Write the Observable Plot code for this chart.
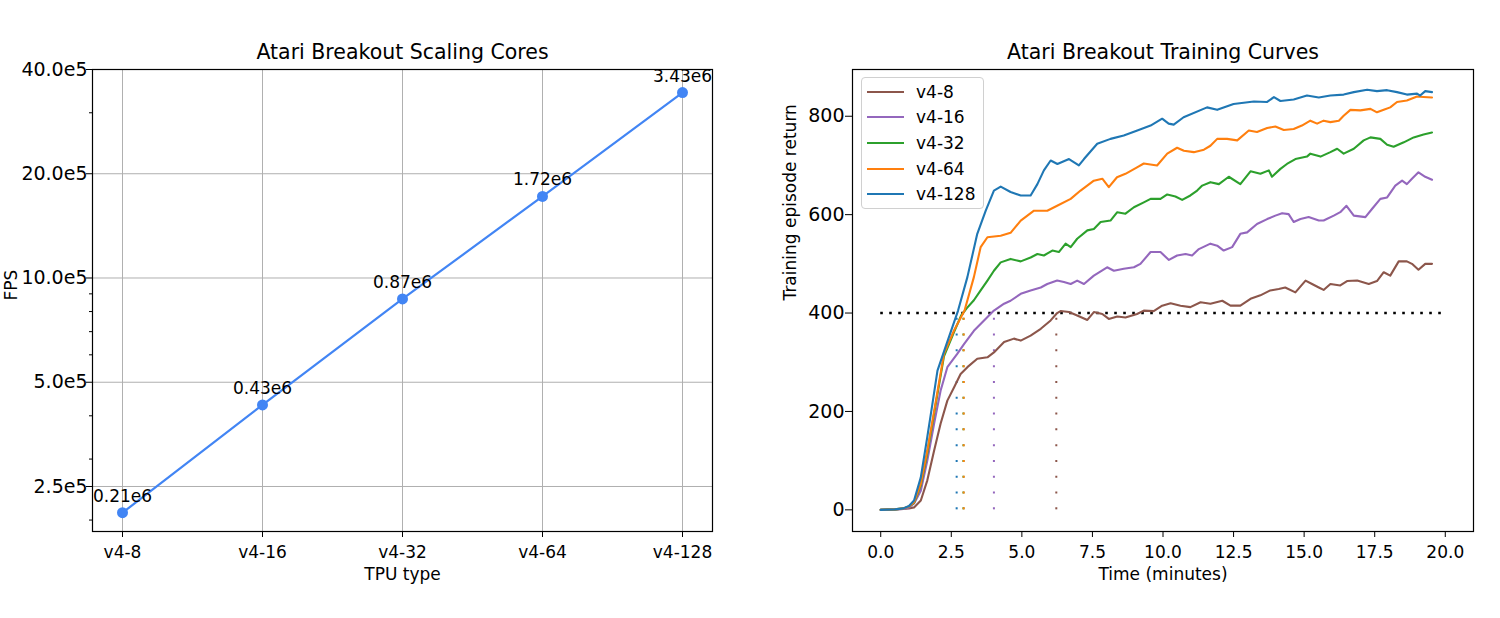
<!DOCTYPE html>
<html><head><meta charset="utf-8">
<script src="https://cdn.jsdelivr.net/npm/d3@7"></script>
<script src="https://cdn.jsdelivr.net/npm/@observablehq/plot@0.6"></script>
<style>
html,body{margin:0;padding:0;background:#fff;}
#root{position:relative;width:1500px;height:618px;overflow:hidden;font-family:"DejaVu Sans",sans-serif;background:#fff;}
#left{position:absolute;left:0;top:0;width:750px;height:618px;overflow:hidden;}
#right{position:absolute;left:760px;top:0;width:740px;height:618px;overflow:hidden;}
#legend{position:absolute;left:861px;top:77px;width:123px;height:132px;box-sizing:border-box;border:1px solid #d0d0d0;border-radius:4px;background:rgba(255,255,255,0.8);}
#legend .row{position:absolute;left:0;height:20px;width:100%;}
#legend .sw{position:absolute;left:5px;top:9px;width:37px;height:2px;}
#legend .lab{position:absolute;left:54px;top:0;line-height:20px;font-size:17px;color:#000;white-space:nowrap;}
</style></head><body>
<div id="root"><div id="left"></div><div id="right"></div><div id="legend"></div></div>
<script>
// ---------- Left panel data ----------
const leftTitle = "Atari Breakout Scaling Cores";
const tpuTypes = ["v4-8", "v4-16", "v4-32", "v4-64", "v4-128"];
const fpsValues = [0.21e6, 0.43e6, 0.87e6, 1.72e6, 3.43e6];
const fpsLabels = ["0.21e6", "0.43e6", "0.87e6", "1.72e6", "3.43e6"];
const fpsTickValues = [2.5e5, 5e5, 10e5, 20e5, 40e5];
const fpsTickLabels = ["2.5e5", "5.0e5", "10.0e5", "20.0e5", "40.0e5"];
const fpsMinorTicks = [2e5, 3e5, 4e5, 6e5, 7e5, 8e5, 9e5, 3e6];

// ---------- Right panel data ----------
const rightTitle = "Atari Breakout Training Curves";
const seriesNames = ["v4-8", "v4-16", "v4-32", "v4-64", "v4-128"];
const seriesColors = ["#8c564b", "#9467bd", "#2ca02c", "#ff7f0e", "#1f77b4"];
const threshold = 400;
const crossTimes = [6.22, 4.01, 2.93, 2.94, 2.69];
const timeTicks = [0, 2.5, 5, 7.5, 10, 12.5, 15, 17.5, 20];
const returnTicks = [0, 200, 400, 600, 800];

const time8 = [0, 0.5, 0.8, 1.0, 1.18, 1.42, 1.65, 1.89, 2.12, 2.36, 2.6, 2.83, 3.07, 3.42, 3.78, 4.01, 4.37, 4.72, 4.96, 5.31, 5.67, 6.02, 6.25, 6.37, 6.67, 6.96, 7.32, 7.55, 7.85, 8.08, 8.38, 8.67, 9.08, 9.32, 9.67, 9.97, 10.27, 10.62, 10.97, 11.33, 11.68, 12.1, 12.39, 12.74, 13.1, 13.45, 13.8, 14.1, 14.33, 14.69, 15.05, 15.28, 15.52, 15.69, 15.93, 16.28, 16.52, 16.88, 17.29, 17.58, 17.82, 18.05, 18.35, 18.64, 18.82, 19.05, 19.29, 19.53];
const ret8 = [0, 1, 2, 3, 5, 19, 60, 120, 175, 222, 249, 276, 290, 307, 310, 320, 341, 348, 344, 354, 368, 385, 400, 404, 402, 395, 386, 402, 398, 388, 393, 391, 398, 405, 404, 415, 420, 415, 412, 422, 419, 425, 415, 415, 429, 436, 446, 449, 452, 442, 466, 459, 452, 447, 459, 456, 465, 466, 459, 465, 483, 476, 505, 505, 500, 488, 500, 500];

const time16 = [0, 0.5, 0.8, 1.0, 1.18, 1.42, 1.65, 1.89, 2.12, 2.36, 2.71, 2.95, 3.3, 3.66, 4.01, 4.37, 4.6, 4.96, 5.31, 5.67, 5.9, 6.25, 6.49, 6.73, 6.96, 7.2, 7.55, 8.02, 8.26, 8.61, 8.97, 9.2, 9.56, 9.91, 10.21, 10.5, 10.8, 11.03, 11.27, 11.68, 11.92, 12.15, 12.45, 12.74, 12.98, 13.33, 13.69, 13.98, 14.22, 14.45, 14.63, 14.87, 15.16, 15.52, 15.69, 16.05, 16.28, 16.5, 16.76, 17.17, 17.41, 17.7, 17.94, 18.23, 18.47, 18.64, 18.82, 19.05, 19.29, 19.53];
const ret16 = [0, 1, 2, 5, 13, 39, 100, 175, 242, 290, 317, 337, 364, 385, 405, 419, 425, 439, 446, 452, 459, 466, 463, 459, 466, 459, 476, 493, 486, 490, 493, 500, 524, 524, 508, 517, 520, 517, 530, 541, 537, 527, 534, 561, 564, 581, 591, 598, 603, 601, 585, 591, 595, 588, 588, 598, 605, 618, 598, 595, 612, 632, 635, 659, 669, 662, 673, 686, 677, 671];

const time32 = [0, 0.5, 0.8, 1.0, 1.18, 1.42, 1.65, 1.89, 2.24, 2.6, 2.85, 3.05, 3.3, 3.54, 3.78, 4.01, 4.25, 4.6, 4.96, 5.31, 5.55, 5.78, 6.08, 6.31, 6.55, 6.73, 6.96, 7.32, 7.55, 7.79, 8.14, 8.38, 8.67, 8.97, 9.32, 9.56, 9.91, 10.15, 10.44, 10.68, 10.97, 11.21, 11.39, 11.68, 11.98, 12.33, 12.74, 13.1, 13.45, 13.75, 13.86, 14.16, 14.39, 14.69, 15.1, 15.22, 15.58, 15.93, 16.17, 16.4, 16.76, 17.11, 17.35, 17.7, 17.94, 18.17, 18.53, 18.88, 19.23, 19.53];
const ret32 = [0, 1, 3, 7, 14, 50, 115, 195, 312, 362, 395, 410, 426, 446, 466, 486, 503, 510, 505, 513, 520, 517, 527, 524, 541, 534, 551, 568, 571, 585, 588, 605, 602, 615, 625, 632, 632, 641, 637, 630, 639, 649, 659, 666, 662, 677, 662, 688, 683, 690, 677, 693, 703, 713, 718, 724, 718, 727, 734, 724, 734, 751, 757, 754, 742, 738, 747, 757, 763, 767];

const time64 = [0, 0.5, 0.8, 1.0, 1.18, 1.42, 1.65, 1.89, 2.24, 2.6, 2.97, 3.3, 3.54, 3.78, 4.25, 4.6, 4.96, 5.43, 5.9, 6.25, 6.73, 7.08, 7.55, 7.85, 8.08, 8.37, 8.67, 9.08, 9.32, 9.79, 10.15, 10.5, 10.74, 11.09, 11.45, 11.68, 11.92, 12.27, 12.63, 13.04, 13.33, 13.69, 13.98, 14.28, 14.63, 14.92, 15.22, 15.46, 15.69, 15.93, 16.23, 16.4, 16.64, 16.99, 17.35, 17.58, 17.82, 18.05, 18.29, 18.64, 19.0, 19.23, 19.53];
const ret64 = [0, 1, 3, 7, 15, 53, 120, 200, 317, 365, 405, 473, 534, 554, 557, 563, 588, 608, 608, 618, 632, 649, 669, 673, 656, 676, 683, 696, 704, 700, 724, 736, 730, 727, 732, 740, 754, 754, 751, 771, 768, 776, 779, 772, 774, 781, 791, 785, 791, 788, 791, 801, 813, 812, 815, 808, 813, 818, 829, 832, 840, 839, 838];

const time128 = [0, 0.5, 0.8, 1.0, 1.18, 1.42, 1.65, 1.83, 2.01, 2.33, 2.74, 3.07, 3.42, 3.72, 4.01, 4.25, 4.6, 4.96, 5.31, 5.55, 5.78, 6.02, 6.26, 6.67, 7.02, 7.2, 7.67, 8.14, 8.61, 9.09, 9.56, 9.97, 10.2, 10.38, 10.73, 11.56, 11.92, 12.5, 13.22, 13.69, 13.93, 14.16, 14.63, 15.1, 15.52, 15.93, 16.4, 16.76, 17.23, 17.58, 17.94, 18.29, 18.64, 19.0, 19.11, 19.29, 19.53];
const ret128 = [0, 1, 3, 8, 19, 66, 148, 215, 283, 337, 405, 473, 561, 608, 649, 657, 646, 639, 639, 662, 690, 710, 703, 713, 700, 713, 744, 754, 761, 771, 781, 795, 785, 783, 798, 818, 813, 825, 830, 829, 839, 831, 834, 842, 838, 842, 844, 849, 854, 851, 853, 849, 844, 846, 842, 851, 849];

// ---------- Build tables ----------
const fpsTable = tpuTypes.map((tpu, i) => ({tpu, fps: fpsValues[i], label: fpsLabels[i]}));
const fpsTickMap = new Map(fpsTickValues.map((v, i) => [v, fpsTickLabels[i]]));

const seriesTimes = [time8, time16, time32, time64, time128];
const seriesReturns = [ret8, ret16, ret32, ret64, ret128];
const curves = seriesNames.map((name, k) =>
  seriesTimes[k].map((t, i) => ({series: name, t, v: seriesReturns[k][i]})));
const crossTable = seriesNames.map((name, k) => ({series: name, t: crossTimes[k], color: seriesColors[k]}));

const grid = {stroke: "#b0b0b0", strokeOpacity: 1, strokeWidth: 1};
const baseStyle = {fontFamily: "DejaVu Sans", fontSize: "17px", color: "black", background: "white"};

// ---------- Left plot ----------
const left = Plot.plot({
  width: 750, height: 618,
  marginTop: 69, marginBottom: 87, marginLeft: 92, marginRight: 38,
  style: baseStyle,
  x: {type: "point", domain: tpuTypes, padding: 0.2, label: null},
  y: {type: "log", domain: [1.8535e5, 4e6], label: null},
  marks: [
    Plot.gridX(tpuTypes, grid),
    Plot.gridY(fpsTickValues, grid),
    Plot.axisX(tpuTypes, {tickSize: 6, tickPadding: 8, fontSize: 17, label: null}),
    Plot.axisY(fpsTickValues, {tickSize: 6, tickPadding: -1, fontSize: 19, label: null, tickFormat: d => fpsTickMap.get(d)}),
    Plot.axisY(fpsMinorTicks, {tickSize: 3, tickFormat: () => "", label: null}),
    Plot.line(fpsTable, {x: "tpu", y: "fps", stroke: "#4285F4", strokeWidth: 2.2}),
    Plot.dot(fpsTable, {x: "tpu", y: "fps", r: 5.5, fill: "#4285F4", stroke: "none"}),
    Plot.text(fpsTable, {x: "tpu", y: "fps", text: "label", dy: -11, lineAnchor: "bottom", fontSize: 17}),
    Plot.frame({stroke: "black", strokeWidth: 1.2}),
    Plot.text([leftTitle], {text: d => d, frameAnchor: "top", dy: -11, lineAnchor: "bottom", fontSize: 20.5}),
    Plot.text(["TPU type"], {text: d => d, frameAnchor: "bottom", dy: 48, lineAnchor: "bottom", fontSize: 17}),
    Plot.text(["FPS"], {text: d => d, frameAnchor: "left", dx: -76, rotate: -90, lineAnchor: "bottom", fontSize: 17})
  ]
});
document.getElementById("left").appendChild(left);

// ---------- Right plot ----------
const right = Plot.plot({
  width: 740, height: 618,
  marginTop: 69, marginBottom: 87, marginLeft: 92, marginRight: 27,
  style: baseStyle,
  x: {domain: [-1, 21], label: null},
  y: {domain: [-44, 895], label: null},
  marks: [
    Plot.axisX(timeTicks, {tickSize: 6, tickPadding: 8, fontSize: 17, label: null, tickFormat: d3.format(".1f")}),
    Plot.axisY(returnTicks, {tickSize: 7, tickPadding: 1, fontSize: 19, label: null, tickFormat: d3.format("d")}),
    ...crossTable.map(c => Plot.ruleX([c], {x: "t", y1: 0, y2: threshold, stroke: c.color, strokeWidth: 2, strokeDasharray: "2,13.8"})),
    Plot.ruleY([threshold], {x1: 0, x2: 20, stroke: "black", strokeWidth: 2.6, strokeDasharray: "2.6,6.4"}),
    ...curves.map((data, k) => Plot.line(data, {x: "t", y: "v", stroke: seriesColors[k], strokeWidth: 2.1})),
    Plot.frame({stroke: "black", strokeWidth: 1.2}),
    Plot.text([rightTitle], {text: d => d, frameAnchor: "top", dy: -11, lineAnchor: "bottom", fontSize: 20.5}),
    Plot.text(["Time (minutes)"], {text: d => d, frameAnchor: "bottom", dy: 48, lineAnchor: "bottom", fontSize: 17}),
    Plot.text(["Training episode return"], {text: d => d, frameAnchor: "left", dx: -57, rotate: -90, lineAnchor: "bottom", fontSize: 17})
  ]
});
document.getElementById("right").appendChild(right);

// ---------- Legend ----------
const legend = document.getElementById("legend");
seriesNames.forEach((name, k) => {
  const row = document.createElement("div");
  row.className = "row";
  row.style.top = Math.round(3.7 + 25.65 * k) + "px";
  const sw = document.createElement("div");
  sw.className = "sw";
  sw.style.background = seriesColors[k];
  const lab = document.createElement("div");
  lab.className = "lab";
  lab.textContent = name;
  row.appendChild(sw); row.appendChild(lab);
  legend.appendChild(row);
});
</script>
</body></html>
